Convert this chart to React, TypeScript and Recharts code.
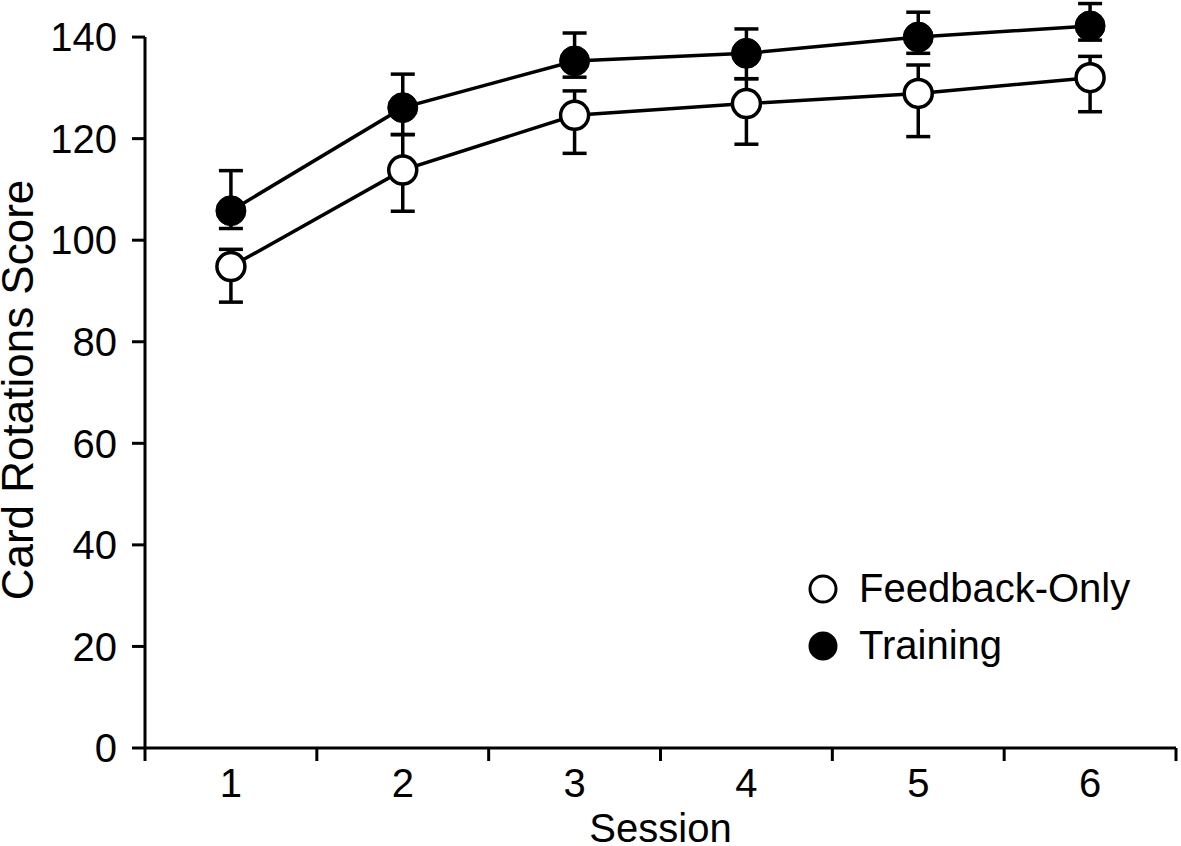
import { LineChart, Line, XAxis, YAxis, ErrorBar, Legend, ReferenceLine } from "recharts";

// Sessions and mean scores
const sessions = [1, 2, 3, 4, 5, 6];
const feedbackOnly = [94.8, 113.8, 124.6, 126.9, 128.9, 132.0];
const training = [105.8, 126.1, 135.3, 136.8, 140.0, 142.2];

// error bars as [below, above]
const feedbackErr = [[7.0, 3.4], [8.1, 7.0], [7.5, 4.8], [8.0, 4.9], [8.5, 5.6], [6.7, 4.2]];
const trainingErr = [[3.5, 7.9], [5.3, 6.6], [3.2, 5.5], [5.0, 4.8], [3.2, 4.9], [2.8, 4.4]];

const yTicks = [0, 20, 40, 60, 80, 100, 120, 140];
const boundaryTicks = [0.5, 1.5, 2.5, 3.5, 4.5, 5.5, 6.5];

const chartData = sessions.map((s, i) => ({
  session: s,
  feedback: feedbackOnly[i],
  feedbackErr: feedbackErr[i],
  training: training[i],
  trainingErr: trainingErr[i],
}));

const FONT = "'Liberation Sans', Arial, Helvetica, sans-serif";
const black = "#000";

const legendFill: Record<string, string> = {
  "Feedback-Only": "#fff",
  Training: black,
};

const renderLegend = (props: any) => {
  const { payload } = props;
  return (
    <div style={{ fontFamily: FONT, fontSize: 40, color: black }}>
      {payload.map((entry: any) => (
        <div key={entry.value} style={{ display: "flex", alignItems: "center", height: 57 }}>
          <svg width={30} height={30}>
            <circle cx={15} cy={15} r={13} fill={legendFill[entry.value]} stroke={black} strokeWidth={3} />
          </svg>
          <span style={{ marginLeft: 21 }}>{entry.value}</span>
        </div>
      ))}
    </div>
  );
};

// boundary ticks only carry a tick mark, no text
const NoLabel = () => <g />;

export default function App() {
  return (
    <div style={{ position: "absolute", left: 0, top: 0, background: "#fff", fontFamily: FONT }}>
      <LineChart
        width={1181}
        height={846}
        data={chartData}
        margin={{ top: 0, right: 5, left: 0, bottom: 0 }}
      >
        <XAxis
          xAxisId="axisA"
          type="number"
          dataKey="session"
          domain={[0.5, 6.5]}
          ticks={boundaryTicks}
          height={1}
          tick={NoLabel}
          tickSize={13}
          axisLine={{ stroke: black, strokeWidth: 3 }}
          tickLine={{ stroke: black, strokeWidth: 3 }}
        />
        <XAxis
          xAxisId="axisB"
          type="number"
          dataKey="session"
          domain={[0.5, 6.5]}
          ticks={sessions}
          height={97}
          tickSize={0}
          tickMargin={20}
          axisLine={false}
          tickLine={false}
          tick={{ fill: black, fontSize: 40, fontFamily: FONT }}
          label={{ value: "Session", position: "insideBottom", offset: 4, fill: black, fontSize: 40, fontFamily: FONT }}
        />
        <YAxis
          type="number"
          domain={[0, 147.3]}
          ticks={yTicks}
          width={145}
          tickSize={13}
          tickMargin={15}
          axisLine={false}
          tickLine={{ stroke: black, strokeWidth: 3 }}
          tick={{ fill: black, fontSize: 40, fontFamily: FONT }}
          label={{
            value: "Card Rotations Score",
            angle: -90,
            position: "insideLeft",
            offset: 17,
            dy: 16,
            fill: black,
            fontSize: 44,
            fontFamily: FONT,
            style: { textAnchor: "middle" },
          }}
        />
        <ReferenceLine
          xAxisId="axisA"
          segment={[{ x: 0.5, y: 0 }, { x: 0.5, y: 140 }]}
          stroke={black}
          strokeWidth={3}
        />
        <Legend
          layout="vertical"
          align="center"
          verticalAlign="middle"
          content={renderLegend}
          wrapperStyle={{ left: 808, top: 560, width: 360 }}
        />
        <Line
          xAxisId="axisB"
          dataKey="feedback"
          name="Feedback-Only"
          type="linear"
          stroke={black}
          strokeWidth={3.5}
          dot={{ r: 14, fill: "#fff", stroke: black, strokeWidth: 3.5 }}
          isAnimationActive={false}
        >
          <ErrorBar dataKey="feedbackErr" width={12} stroke={black} strokeWidth={3.5} direction="y" />
        </Line>
        <Line
          xAxisId="axisB"
          dataKey="training"
          name="Training"
          type="linear"
          stroke={black}
          strokeWidth={3.5}
          dot={{ r: 15, fill: black, stroke: black, strokeWidth: 1 }}
          isAnimationActive={false}
        >
          <ErrorBar dataKey="trainingErr" width={12} stroke={black} strokeWidth={3.5} direction="y" />
        </Line>
      </LineChart>
    </div>
  );
}
